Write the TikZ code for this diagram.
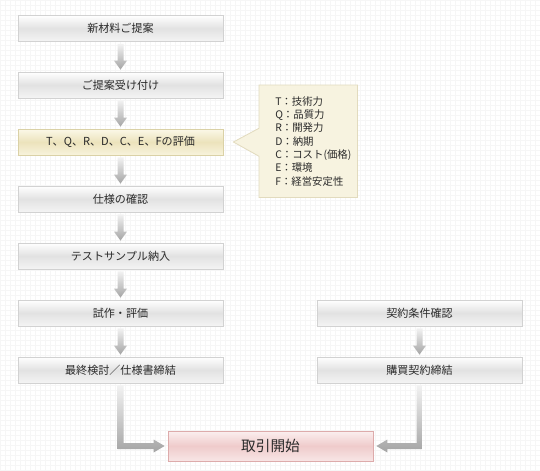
\documentclass[tikz,border=0pt]{standalone}
\usepackage{fontspec}
\setmainfont{Noto Sans CJK JP}
\usetikzlibrary{calc}
\definecolor{gridc}{HTML}{F6F6F6}
\definecolor{txt}{HTML}{2A2A2A}
\definecolor{gborder}{HTML}{D2D2D2}
\definecolor{gtop}{HTML}{FFFFFF}
\definecolor{gmid}{HTML}{E2E2E2}
\definecolor{gbot}{HTML}{F4F4F4}
\definecolor{yborder}{HTML}{DAD1A6}
\definecolor{ytop}{HTML}{FBF8E8}
\definecolor{ymid}{HTML}{ECE3BC}
\definecolor{ybot}{HTML}{F8F3DC}
\definecolor{pborder}{HTML}{DDABAB}
\definecolor{ptop}{HTML}{FBEFEF}
\definecolor{pmid}{HTML}{EFCBCB}
\definecolor{pbot}{HTML}{F8E6E6}
\definecolor{cfill}{HTML}{F7F3E0}
\definecolor{cborder}{HTML}{E2DBBE}
\definecolor{atop}{HTML}{F2F2F2}
\definecolor{abot}{HTML}{A4A4A4}
\tikzset{
  graybox/.style={draw=gborder, line width=0.6pt, top color=gtop, bottom color=gbot, middle color=gmid,
    minimum width=205*0.75pt, minimum height=26*0.75pt, inner sep=0pt, text=txt, font=\fontsize{8.3}{10}\selectfont},
  yellowbox/.style={graybox, draw=yborder, top color=ytop, bottom color=ybot, middle color=ymid},
  pinkbox/.style={graybox, draw=pborder, top color=ptop, bottom color=pbot, middle color=pmid,
    minimum height=30*0.75pt, font=\fontsize{11}{13}\selectfont},
  arrowshade/.style={top color=atop, bottom color=abot},
  legendtext/.style={text=txt, font=\fontsize{7.8}{10}\selectfont, align=left, inner sep=0pt, anchor=north west}
}
\newcommand{\flowdown}[2]{%
  \shade[arrowshade] ($(#1.south)+(-3,2)$) -- ($(#1.south)+(3,2)$) -- ($(#2.north)+(3,-11)$)
    -- ($(#2.north)+(6.5,-11)$) -- ($(#2.north)+(0,-2)$) -- ($(#2.north)+(-6.5,-11)$)
    -- ($(#2.north)+(-3,-11)$) -- cycle;}
\begin{document}
\begin{tikzpicture}[x=0.75pt,y=-0.75pt]
\useasboundingbox (0,0) rectangle (540,471);
\fill[white] (0,0) rectangle (540,471);
\foreach \i in {0,5,...,540} {\draw[gridc, line width=0.3pt] (\i,0) -- (\i,471);}
\foreach \j in {0,5,...,470} {\draw[gridc, line width=0.3pt] (0,\j) -- (540,\j);}

% left column
\node[graybox] (n1) at (120.5,28.5) {新材料ご提案};
\node[graybox] (n2) at (120.5,85) {ご提案受け付け};
\node[yellowbox] (n3) at (120.5,142) {T、Q、R、D、C、E、Fの評価};
\node[graybox] (n4) at (120.5,199) {仕様の確認};
\node[graybox] (n5) at (120.5,256) {テストサンプル納入};
\node[graybox] (n6) at (120.5,313) {試作・評価};
\node[graybox] (n7) at (120.5,370) {最終検討／仕様書締結};
% right column
\node[graybox] (r1) at (419.5,313) {契約条件確認};
\node[graybox] (r2) at (419.5,370) {購買契約締結};
% start
\node[pinkbox] (start) at (270.5,446) {取引開始};

% callout
\node[minimum width=98*0.75pt, minimum height=112*0.75pt, inner sep=0pt, anchor=north west] (legend) at (259,85) {};
\coordinate (ctip) at ($(n3.east)+(10,0)$);
\filldraw[fill=cfill, draw=cborder, line width=0.6pt, line join=miter]
  (legend.north west) -- (legend.north east) -- (legend.south east) -- (legend.south west)
  -- ($(legend.west)+(0,15)$) -- (ctip) -- ($(legend.west)+(0,-13)$) -- cycle;
\node[legendtext] (ltext) at (275,96) {T：技術力\\Q：品質力\\R：開発力\\D：納期\\C：コスト(価格)\\E：環境\\F：経営安定性};

% arrows
\flowdown{n1}{n2}
\flowdown{n2}{n3}
\flowdown{n3}{n4}
\flowdown{n4}{n5}
\flowdown{n5}{n6}
\flowdown{n6}{n7}
\flowdown{r1}{r2}

% bottom L connectors
\shade[arrowshade] ($(n7.south)+(-3,2)$) -- ($(n7.south |- start.west)+(-3,3)$)
  -- ($(start.west)+(-14,3)$) -- ($(start.west)+(-14,6.5)$) -- ($(start.west)+(-3,0)$)
  -- ($(start.west)+(-14,-6.5)$) -- ($(start.west)+(-14,-3)$) -- ($(n7.south |- start.west)+(3,-3)$)
  -- ($(n7.south)+(3,2)$) -- cycle;
\shade[arrowshade] ($(r2.south)+(3,2)$) -- ($(r2.south |- start.east)+(3,3)$)
  -- ($(start.east)+(14,3)$) -- ($(start.east)+(14,6.5)$) -- ($(start.east)+(3,0)$)
  -- ($(start.east)+(14,-6.5)$) -- ($(start.east)+(14,-3)$) -- ($(r2.south |- start.east)+(-3,-3)$)
  -- ($(r2.south)+(-3,2)$) -- cycle;
\end{tikzpicture}
\end{document}
